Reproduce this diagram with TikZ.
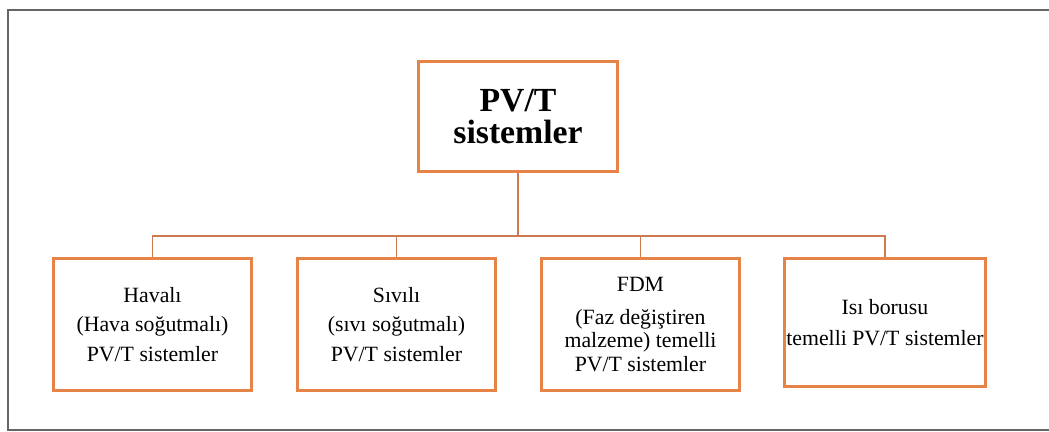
\documentclass[tikz,border=0pt]{standalone}
\usepackage{fontspec}
\setmainfont{Liberation Serif}
\definecolor{boxorange}{RGB}{230,132,72}
\definecolor{lineorange}{RGB}{205,122,80}
\tikzset{
  sysbox/.style={draw=boxorange, line width=1.6pt, fill=white, align=center,
    minimum width=3.96cm, minimum height=2.64cm, inner sep=1pt,
    font=\fontsize{12.4}{17}\selectfont},
  link/.style={draw=lineorange, line width=1.1pt},
}
\begin{document}
\begin{tikzpicture}[x=0.02cm, y=-0.02cm]
        \useasboundingbox (0,0) rectangle (1049,432);
        \draw[gray!80!black, line width=0.8pt] (1060,10) -- (8,10) -- (8,430) -- (1060,430);

        \node[sysbox, minimum width=3.98cm, minimum height=2.2cm, font=\fontsize{19.2}{18}\selectfont\bfseries] (top) at (518,116.5) {PV/T\\sistemler};

        \node[sysbox] (a) at (152.5,324.5) {Havalı\\(Hava soğutmalı)\\PV/T sistemler};
        \node[sysbox] (b) at (396.5,324.5) {Sıvılı\\(sıvı soğutmalı)\\PV/T sistemler};
        \node[sysbox, font=\fontsize{12.4}{13.2}\selectfont] (c) at (640.5,324.5) {FDM\\[5.5pt](Faz değiştiren\\malzeme) temelli\\PV/T sistemler};
        \node[sysbox, minimum height=2.56cm, font=\fontsize{12.4}{18}\selectfont] (d) at (885,322.5) {Isı borusu\\temelli PV/T sistemler};

        \coordinate (bus) at (518,236);
        \path[link] (top) -- (bus);
        \path[link] (a.north) |- (bus);
        \path[link] (b.north) |- (bus);
        \path[link] (c.north) |- (bus);
        \path[link] (d.north) |- (bus);
      \end{tikzpicture}
\end{document}
